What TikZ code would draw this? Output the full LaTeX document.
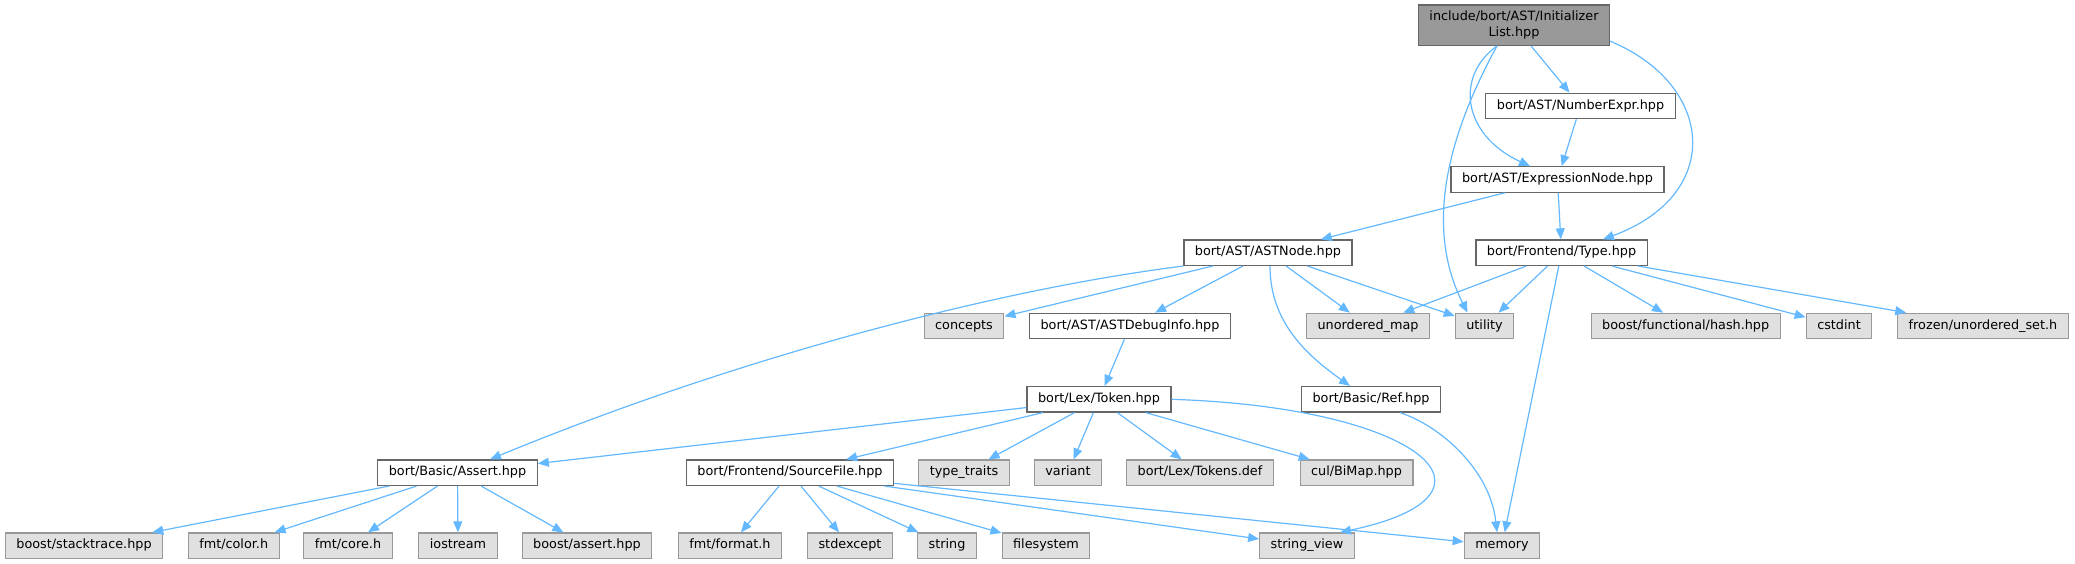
\documentclass[tikz,border=0pt]{standalone}
\usepackage{fontspec}
\setmainfont{DejaVu Sans}
\usetikzlibrary{arrows.meta}
\definecolor{edgeblue}{HTML}{63B8FF}
\definecolor{sysfill}{HTML}{E0E0E0}
\definecolor{sysline}{HTML}{999999}
\definecolor{incline}{HTML}{666666}
\definecolor{rootfill}{HTML}{999999}

\begin{document}
\begin{tikzpicture}[x=1pt,y=-1pt,->,>={Triangle[length=11pt,width=9pt]}]
  \tikzstyle{box}=[rectangle,line width=1.2pt,inner xsep=11pt,inner ysep=0pt,minimum height=25.5pt,font=\fontsize{12.8pt}{15.5pt}\selectfont]
  \tikzstyle{inc}=[box,draw=incline,fill=white,text height=9.5pt,text depth=3pt]
  \tikzstyle{sys}=[box,draw=sysline,fill=sysfill,text height=9.5pt,text depth=3pt]
  \tikzstyle{mainfile}=[box,draw=incline,fill=rootfill,minimum height=40.3pt,align=center]
  \tikzstyle{dep}=[draw=edgeblue,line width=1.2pt]
  \useasboundingbox (0,0) rectangle (2075,564);

  \node[mainfile] (IL) at (1514,25.2)  {include/bort/AST/Initializer\\List.hpp};
  \node[inc] (NE) at (1580.5,106)   {bort/AST/NumberExpr.hpp};
  \node[inc] (EN) at (1557.5,179.5) {bort/AST/ExpressionNode.hpp};
  \node[inc] (AN) at (1268,252.7)   {bort/AST/ASTNode.hpp};
  \node[inc] (TY) at (1561.5,252.7) {bort/Frontend/Type.hpp};

  \node[sys] (CO) at (964,326)    {concepts};
  \node[inc] (DI) at (1130,326)   {bort/AST/ASTDebugInfo.hpp};
  \node[sys] (UM) at (1368,326)   {unordered\_map};
  \node[sys] (UT) at (1484.5,326) {utility};
  \node[sys] (FH) at (1685.7,326) {boost/functional/hash.hpp};
  \node[sys] (CI) at (1839,326)   {cstdint};
  \node[sys] (FU) at (1983,326)   {frozen/unordered\_set.h};

  \node[inc] (TK) at (1099,399.3) {bort/Lex/Token.hpp};
  \node[inc] (RF) at (1371,399.3) {bort/Basic/Ref.hpp};

  \node[inc] (AS) at (457.5,472.7)  {bort/Basic/Assert.hpp};
  \node[inc] (SF) at (790,472.7)    {bort/Frontend/SourceFile.hpp};
  \node[sys] (TT) at (964,472.7)    {type\_traits};
  \node[sys] (VA) at (1068,472.7)   {variant};
  \node[sys] (TD) at (1200,472.7)   {bort/Lex/Tokens.def};
  \node[sys] (BM) at (1356.5,472.7) {cul/BiMap.hpp};

  \node[sys] (ST) at (84,545.7)    {boost/stacktrace.hpp};
  \node[sys] (FC) at (233.7,545.7) {fmt/color.h};
  \node[sys] (FO) at (348,545.7)   {fmt/core.h};
  \node[sys] (IO) at (458,545.7)   {iostream};
  \node[sys] (BA) at (587,545.7)   {boost/assert.hpp};
  \node[sys] (FF) at (730,545.7)   {fmt/format.h};
  \node[sys] (SE) at (850,545.7)   {stdexcept};
  \node[sys] (SG) at (947,545.7)   {string};
  \node[sys] (FS) at (1046,545.7)  {filesystem};
  \node[sys] (SV) at (1307,545.7)  {string\_view};
  \node[sys] (ME) at (1502,545.7)  {memory};

  \draw[dep] ([xshift=-17pt]IL.south) .. controls +(-52,95) and +(-42,-83) .. ([xshift=-17pt]UT.north);
  \draw[dep] ([xshift=-17pt]IL.south) .. controls +(-42,30) and +(-68,-31.5) .. ([xshift=-27.5pt]EN.north);
  \draw[dep] (IL) -- (NE);
  \draw[dep] ([yshift=-16pt]IL.east) .. controls +(104,43) and +(122,-45) .. ([xshift=41.5pt]TY.north);
  \draw[dep] (NE) -- (EN);
  \draw[dep] (EN) -- (AN);
  \draw[dep] (EN) -- (TY);

  \draw[dep] (TY) -- (UM);
  \draw[dep] (TY) -- (UT);
  \draw[dep] (TY) -- (ME);
  \draw[dep] (TY) -- (FH);
  \draw[dep] (TY) -- (CI);
  \draw[dep] (TY) -- (FU);

  \draw[dep] (AN.south west) .. controls +(-200,25) and +(230,-95) .. ([xshift=32.5pt]AS.north);
  \draw[dep] (AN) -- (CO);
  \draw[dep] (AN) -- (DI);
  \draw[dep] (AN) -- (UM);
  \draw[dep] (AN) -- (UT);
  \draw[dep] ([xshift=2pt]AN.south) .. controls +(0,55) and +(-45,-32) .. ([xshift=-21pt]RF.north);

  \draw[dep] (DI) -- (TK);
  \draw[dep] (TK) -- (AS);
  \draw[dep] (TK) -- (SF);
  \draw[dep] (TK) -- (TT);
  \draw[dep] (TK) -- (VA);
  \draw[dep] (TK) -- (TD);
  \draw[dep] (TK) -- (BM);
  \draw[dep] (TK.east) .. controls +(249,8) and +(180,-38) .. ([xshift=33pt]SV.north);
  \draw[dep] ([xshift=29pt]RF.south) .. controls +(40,13) and +(-7,-63) .. ([xshift=-5pt]ME.north);

  \draw[dep] (AS) -- (ST);
  \draw[dep] (AS) -- (FC);
  \draw[dep] (AS) -- (FO);
  \draw[dep] (AS) -- (IO);
  \draw[dep] (AS) -- (BA);

  \draw[dep] (SF) -- (FF);
  \draw[dep] (SF) -- (SE);
  \draw[dep] (SF) -- (SG);
  \draw[dep] (SF) -- (FS);
  \draw[dep] (SF) -- (SV);
  \draw[dep] (SF) -- (ME);
\end{tikzpicture}
\end{document}
